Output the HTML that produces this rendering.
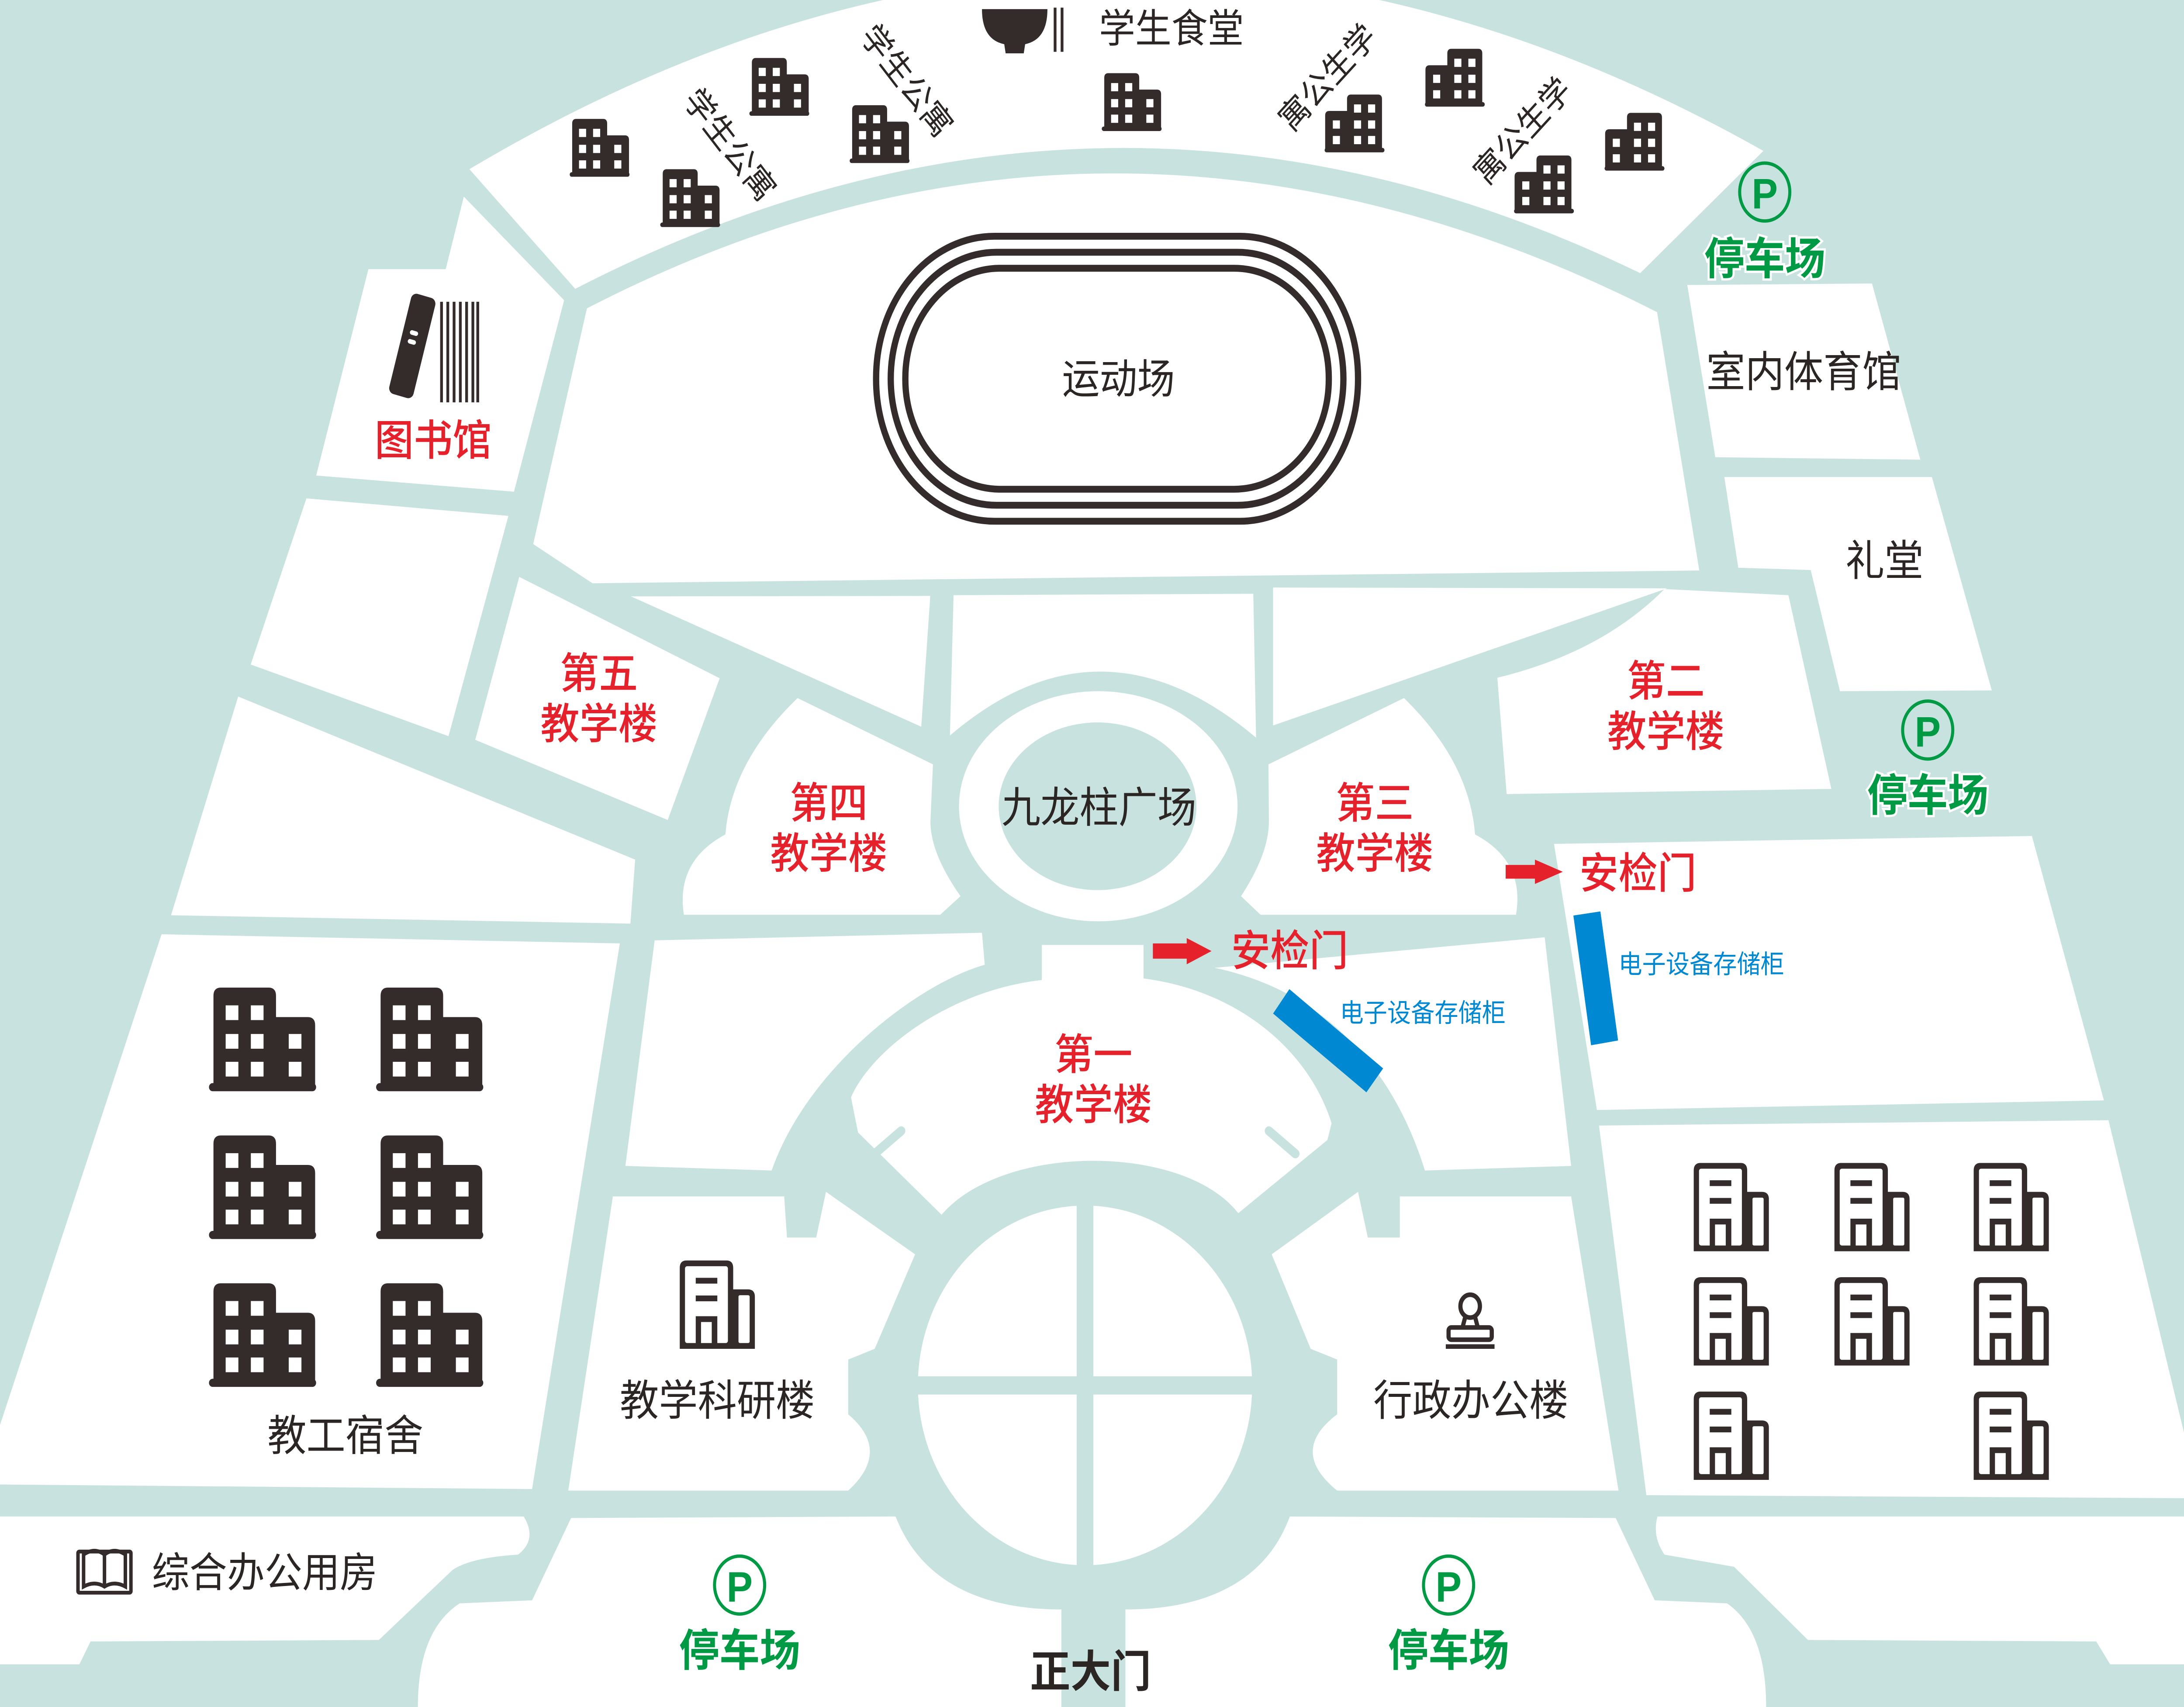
<!DOCTYPE html>
<html><head><meta charset="utf-8">
<style>
html,body{margin:0;padding:0;background:#c8e3df;width:100%;height:100%;overflow:hidden;}
svg{display:block;width:100vw;height:100vh;}
text{font-family:"Liberation Sans","Noto Sans CJK SC",sans-serif;}
</style></head>
<body>
<svg xmlns="http://www.w3.org/2000/svg" viewBox="0 0 1568 1120" preserveAspectRatio="none">
<defs>
<symbol id="dorm" viewBox="0 0 43 38">
<path d="M1.8,35.8 V3 Q1.8,0 4.8,0 H23.9 Q26.9,0 26.9,3 V10.8 H39.6 Q42.6,10.8 42.6,13.8 V35.8 Z" fill="#332c2b"/>
<rect x="0" y="35" width="43" height="3" rx="1.5" fill="#332c2b"/>
<g fill="#fff">
<rect x="6.7" y="6.5" width="5.1" height="5.4"/><rect x="16.8" y="6.5" width="5.1" height="5.4"/>
<rect x="6.7" y="17" width="5.1" height="5.4"/><rect x="16.8" y="17" width="5.1" height="5.4"/><rect x="32" y="17" width="5.1" height="5.4"/>
<rect x="6.7" y="27.2" width="5.1" height="5.4"/><rect x="16.8" y="27.2" width="5.1" height="5.4"/><rect x="32" y="27.2" width="5.1" height="5.4"/>
</g>
</symbol>
<symbol id="office" viewBox="0 0 54 58">
<path d="M0,58 V5 Q0,0 5,0 H33.5 Q38.4,0 38.4,5 V19 H49 Q54,19 54,24 V58 Z" fill="#332c2b"/>
<rect x="3.8" y="3.8" width="30.8" height="50.4" rx="1.5" fill="#fff"/>
<rect x="42.2" y="22.8" width="8" height="31.4" rx="1" fill="#fff"/>
<g fill="#332c2b">
<rect x="11.5" y="11.4" width="15.5" height="3.8"/>
<rect x="11.5" y="23" width="15.5" height="3.8"/>
<rect x="11.5" y="36.6" width="15.5" height="21"/>
</g>
<rect x="15.3" y="40.4" width="7.7" height="13.8" fill="#fff"/>
</symbol>
</defs>

<rect x="0" y="0" width="1568" height="1120" fill="#c8e3df"/>

<g fill="#fff">
<path d="M337,111 Q800,-141 1266,99 L1177.6,179.2 Q795,10 413,189.5 Z"/>
<path d="M421.4,202.3 Q800,24 1189.7,204.8 L1220,374.3 L425.4,382.7 L382.8,357 Z"/>
<path d="M264.5,176.6 L320,176.6 L333,129 L405,197 L369,322.6 L227,312 Z"/>
<path d="M220,327 L365,338.5 L322,483 L180,436 Z"/>
<path d="M171,457 L456,564 L452.6,606 L122.8,600.5 Z"/>
<path d="M372.8,378.5 L516.7,445 L479.4,538 L341.2,485.4 Z"/>
<path d="M453,391.3 L667.9,391 L661.4,476.8 Z"/>
<path d="M684.6,390.5 L899.8,389.6 L901.8,484 Q790,398 682,482.6 Z"/>
<path d="M914,385.5 L1197,386 L914,476 Z"/>
<path d="M1075,444.7 Q1150,428 1195,386.5 L1284,390.5 L1314.8,517.6 L1081.7,521 Z"/>
<path d="M1211.4,187 L1344,186 L1378.7,301.6 L1231.5,300 Z"/>
<path d="M1238,313 L1387,313 L1430,453 L1321,453.5 L1300,374 L1248,372.5 Z"/>
<path d="M572.6,458 Q525,500 520.8,547.5 Q485,565 491,600.2 L675,600.2 L689.6,588 Q668,560 668,539 L669.8,501.5 Z"/>
<path d="M1008,458 L910.7,501.5 L911,539 Q911,560 891,588 L905,600.2 L1088.4,600.2 Q1095,565 1059,547.5 Q1055,500 1008,458 Z"/>
<ellipse cx="788.5" cy="529" rx="100" ry="75.5"/>
<path d="M1115.7,553.7 L1458.8,548.5 L1510.5,722 L1146.5,728.3 Z"/>
<path d="M1148,738.5 L1513.8,735 L1568,940 L1568,983 L1182,981 Z"/>
<path d="M116,613 L445,619 L382,977 L0,974 L0,935 Z"/>
<path d="M470,617 L705,612 L707,633 C660,645 580,700 554,768 L449,765 Z"/>
<path d="M872,635 L1109,615 L1128,765 L1023,768 C1000,700 950,650 872,635 Z"/>
<path d="M616,743 L611,720 C625,690 680,650 748,643 L748,620 L821,620 L821,642 C890,650 940,690 956,737 L953,748 L941,757 L889,796 C850,750 720,750 676,797 Z"/>
<ellipse cx="779" cy="909" rx="120" ry="118"/>
<path d="M440,785 L563,785 L565,812 L586,812 L593,782 L657,823 L628,885 L609,892 L609,928 Q640,952 609,978 L408,978 Z"/>
<path d="M1005,785 L1128,785 L1162,978 L960,978 Q925,952 960,928 L960,892 L941,885 L913,823 L975,782 L982,812 L1005,812 Z"/>
<path d="M0,995 L376,995 Q386,1010 372,1020 Q338,1022 325,1030 L272,1076 L65,1077 L57,1092 L0,1092 Z"/>
<path d="M410,996 L643,995 C660,1035 700,1056 762,1056 L762,1120 L300,1120 Q300,1070 330,1052 L382,1050 Z"/>
<path d="M926,995 L1160,996 L1188,1050 L1240,1052 Q1268,1070 1268,1120 L808,1120 L808,1056 C870,1056 910,1035 926,995 Z"/>
<path d="M1190,995 L1568,995 L1568,1092 L1515,1092 L1505,1077 L1298,1076 L1245,1028 L1195,1020 Q1186,1008 1190,995 Z"/>
</g>

<ellipse cx="788" cy="529" rx="71" ry="55" fill="#c8e3df"/>
<rect x="773" y="790" width="12" height="238" fill="#c8e3df"/>
<rect x="658" y="903" width="242" height="12" fill="#c8e3df"/>
<line x1="628" y1="757" x2="647" y2="742" stroke="#c8e3df" stroke-width="6" stroke-linecap="round"/>
<line x1="930" y1="757" x2="911" y2="742" stroke="#c8e3df" stroke-width="6" stroke-linecap="round"/>

<g fill="none" stroke="#332c2b" stroke-width="4.5">
<rect x="629" y="155" width="346" height="187" rx="85" ry="93"/>
<rect x="639.5" y="165.5" width="325" height="166" rx="76" ry="83"/>
<rect x="650" y="176" width="304" height="145" rx="68" ry="72"/>
</g>
<text x="803" y="249" font-size="27" text-anchor="middle" dominant-baseline="central" fill="#2b2523">运动场</text>

<use href="#dorm" x="409" y="78" width="43" height="38"/>
<use href="#dorm" x="474" y="111" width="43" height="38"/>
<use href="#dorm" x="538" y="38" width="43" height="38"/>
<use href="#dorm" x="610" y="69" width="43" height="38"/>
<use href="#dorm" x="791" y="48" width="43" height="38"/>
<g transform="translate(1945,0) scale(-1,1)">
<use href="#dorm" x="951" y="62" width="43" height="38"/>
<use href="#dorm" x="879" y="32" width="43" height="38"/>
<use href="#dorm" x="815" y="102" width="43" height="38"/>
<use href="#dorm" x="750" y="74" width="43" height="38"/>
</g>
<g font-size="22" fill="#2b2523" text-anchor="middle" dominant-baseline="central">
<text transform="translate(524,95) rotate(50)">学生公寓</text>
<text transform="translate(651,53) rotate(50)">学生公寓</text>
<text transform="translate(953,51) rotate(-45)">寓公生学</text>
<text transform="translate(1093,86) rotate(-45)">寓公生学</text>
</g>

<path d="M705,6 H752 Q752,26 736,29 L735,35 H722 L721,29 Q705,26 705,6 Z" fill="#332c2b"/>
<line x1="757.5" y1="5" x2="757.5" y2="34" stroke="#332c2b" stroke-width="2"/>
<line x1="762.5" y1="5" x2="762.5" y2="34" stroke="#332c2b" stroke-width="2"/>
<text x="841" y="19" font-size="26" text-anchor="middle" dominant-baseline="central" fill="#2b2523">学生食堂</text>

<g transform="translate(296,227) rotate(15)">
<rect x="-9" y="-34" width="18" height="68" rx="4" fill="#332c2b"/>
<rect x="-4" y="-10" width="6" height="3" rx="1.5" fill="#fff"/>
<rect x="-4" y="-4" width="6" height="3" rx="1.5" fill="#fff"/>
</g>
<g stroke="#332c2b" stroke-width="2">
<line x1="317" y1="198" x2="317" y2="264"/><line x1="321.5" y1="198" x2="321.5" y2="264"/>
<line x1="326" y1="198" x2="326" y2="264"/><line x1="330.5" y1="198" x2="330.5" y2="264"/>
<line x1="335" y1="198" x2="335" y2="264"/><line x1="339.5" y1="198" x2="339.5" y2="264"/>
<line x1="343" y1="198" x2="343" y2="264"/>
</g>

<g font-size="28" fill="#e5222c" text-anchor="middle" dominant-baseline="central" font-weight="500">
<text x="311" y="289">图书馆</text>
<text x="430" y="442">第五</text><text x="430" y="475">教学楼</text>
<text x="595" y="527">第四</text><text x="595" y="560">教学楼</text>
<text x="987" y="527">第三</text><text x="987" y="560">教学楼</text>
<text x="1196" y="447">第二</text><text x="1196" y="480">教学楼</text>
<text x="785" y="692">第一</text><text x="785" y="725">教学楼</text>
<text x="926" y="624">安检门</text>
<text x="1176" y="573">安检门</text>
</g>

<g fill="#e5222c">
<rect x="827.7" y="619" width="25" height="10"/>
<polygon points="852,615.5 869.8,624 852,632.7"/>
<rect x="1081" y="567.5" width="22" height="9"/>
<polygon points="1102,564 1122,572 1102,580"/>
</g>

<g fill="#0088d2">
<polygon points="914,665 925.7,649 993,701 981,716.7"/>
<polygon points="1129.6,600.7 1149,598 1161.7,682.7 1142.3,685.8"/>
</g>
<g font-size="17" fill="#0088d2" dominant-baseline="central">
<text x="962" y="665">电子设备存储柜</text>
<text x="1162" y="633">电子设备存储柜</text>
</g>

<g font-size="28" fill="#2b2523" text-anchor="middle" dominant-baseline="central">
<text x="789" y="530">九龙柱广场</text>
<text x="1295" y="244">室内体育馆</text>
<text x="1353" y="368">礼堂</text>
<text x="248" y="942">教工宿舍</text>
<text x="515" y="919">教学科研楼</text>
<text x="1056" y="919">行政办公楼</text>
</g>
<text x="190" y="1032" font-size="27" fill="#2b2523" text-anchor="middle" dominant-baseline="central">综合办公用房</text>
<text x="783" y="1097" font-size="29" font-weight="700" fill="#2b2523" text-anchor="middle" dominant-baseline="central">正大门</text>

<g fill="none" stroke="#332c2b" stroke-width="2.5">
<rect x="56" y="1018" width="38" height="27" rx="1"/>
<path d="M60,1041 V1020 Q68,1015 75,1020 Q82,1015 90,1020 V1041 Q82,1037 75,1041 Q68,1037 60,1041 Z"/>
<line x1="75" y1="1020" x2="75" y2="1041"/>
</g>

<use href="#dorm" x="150" y="648" width="77" height="68"/>
<use href="#dorm" x="270" y="648" width="77" height="68"/>
<use href="#dorm" x="150" y="745" width="77" height="68"/>
<use href="#dorm" x="270" y="745" width="77" height="68"/>
<use href="#dorm" x="150" y="842" width="77" height="68"/>
<use href="#dorm" x="270" y="842" width="77" height="68"/>

<use href="#office" x="1216" y="763" width="54" height="58"/>
<use href="#office" x="1317" y="763" width="54" height="58"/>
<use href="#office" x="1417" y="763" width="54" height="58"/>
<use href="#office" x="1216" y="838" width="54" height="58"/>
<use href="#office" x="1317" y="838" width="54" height="58"/>
<use href="#office" x="1417" y="838" width="54" height="58"/>
<use href="#office" x="1216" y="913" width="54" height="58"/>
<use href="#office" x="1417" y="913" width="54" height="58"/>
<use href="#office" x="488" y="827" width="54" height="58"/>

<g fill="none" stroke="#332c2b" stroke-width="3">
<ellipse cx="1055.5" cy="857" rx="7" ry="7.5"/>
<path d="M1052,864 L1050,871 M1059,864 L1061,871"/>
<rect x="1040" y="871" width="31" height="8" rx="2"/>
</g>
<rect x="1038" y="882" width="35" height="3" fill="#332c2b"/>

<g fill="none" stroke="#009a44" stroke-width="2.2">
<ellipse cx="1267" cy="126" rx="18" ry="19"/>
<ellipse cx="1384" cy="479" rx="18" ry="19"/>
<ellipse cx="531" cy="1040" rx="18" ry="19"/>
<ellipse cx="1040" cy="1040" rx="18" ry="19"/>
</g>
<g font-size="28" font-weight="700" fill="#009a44" text-anchor="middle" dominant-baseline="central">
<text x="1267" y="127">P</text><text x="1384" y="480">P</text>
<text x="531" y="1041">P</text><text x="1040" y="1041">P</text>
</g>
<g font-size="29" font-weight="700" fill="#009a44" stroke="#fff" stroke-width="3" paint-order="stroke" text-anchor="middle" dominant-baseline="central">
<text x="1267" y="170">停车场</text>
<text x="1384" y="522">停车场</text>
<text x="531" y="1083">停车场</text>
<text x="1040" y="1083">停车场</text>
</g>
</svg>
</body></html>
